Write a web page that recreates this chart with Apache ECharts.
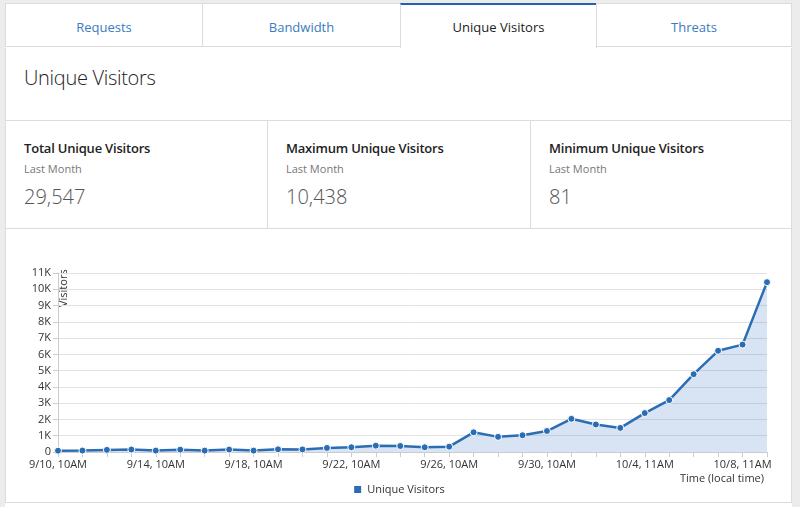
<!DOCTYPE html>
<html>
<head>
<meta charset="utf-8">
<script src="https://cdn.jsdelivr.net/npm/echarts@6/dist/echarts.min.js"></script>
<style>
  html, body { margin: 0; padding: 0; width: 800px; height: 507px; overflow: hidden; background: #ececec; font-family: "Open Sans", "Noto Sans", sans-serif; }
  .panel { position: absolute; left: 5px; top: 3px; width: 787px; height: 504px; background: #fff; }
  .tabs { position: absolute; left: 0; top: 0; width: 787px; height: 45px; }
  .tab { position: absolute; top: 0; height: 44px; box-sizing: border-box; border: 1px solid #dcdcdc; background: #fff; color: #3a7cc0; font-size: 13px; text-align: center; line-height: 46px; }
  .tab.active { border: none; border-top: 2px solid #1f63ad; border-left: 1px solid #dcdcdc; border-right: 1px solid #dcdcdc; height: 45px; color: #222; line-height: 45px; }
  .title { position: absolute; left: 0; top: 45px; width: 787px; height: 73px; border-bottom: 1px solid #dcdcdc; box-sizing: border-box; border-left: 1px solid #dcdcdc; border-right: 1px solid #dcdcdc; }
  .title span { position: absolute; left: 18px; top: 16px; font-size: 20px; font-weight: 300; color: #222; letter-spacing: -0.3px; }
  .stats { position: absolute; left: 0; top: 118px; width: 787px; height: 108px; border-bottom: 1px solid #dcdcdc; box-sizing: border-box; border-left: 1px solid #dcdcdc; border-right: 1px solid #dcdcdc; }
  .stat { position: absolute; top: 0; height: 107px; box-sizing: border-box; }
  .stat .lbl { position: absolute; left: 18px; top: 18px; font-size: 13px; font-weight: 600; color: #222; letter-spacing: -0.2px; }
  .stat .sub { position: absolute; left: 18px; top: 40px; font-size: 11px; color: #777; }
  .stat .val { position: absolute; left: 18px; top: 62px; font-size: 20px; font-weight: 300; color: #555; }
  .chartwrap { position: absolute; left: 0; top: 226px; width: 787px; height: 274px; border-bottom: 1px solid #dcdcdc; box-sizing: border-box; border-left: 1px solid #dcdcdc; border-right: 1px solid #dcdcdc; }
  #chart { position: absolute; left: 0; top: 0; width: 785px; height: 273px; }
</style>
</head>
<body>
<div class="panel">
  <div class="tabs">
    <div class="tab" style="left:0;width:198px;">Requests</div>
    <div class="tab" style="left:197px;width:199px;">Bandwidth</div>
    <div class="tab active" style="left:395px;width:197px;">Unique Visitors</div>
    <div class="tab" style="left:591px;width:196px;">Threats</div>
  </div>
  <div class="title"><span>Unique Visitors</span></div>
  <div class="stats">
    <div class="stat" style="left:0;width:262px;border-right:1px solid #dcdcdc;">
      <div class="lbl">Total Unique Visitors</div><div class="sub">Last Month</div><div class="val">29,547</div>
    </div>
    <div class="stat" style="left:262px;width:263px;border-right:1px solid #dcdcdc;">
      <div class="lbl">Maximum Unique Visitors</div><div class="sub">Last Month</div><div class="val">10,438</div>
    </div>
    <div class="stat" style="left:525px;width:262px;">
      <div class="lbl">Minimum Unique Visitors</div><div class="sub">Last Month</div><div class="val">81</div>
    </div>
  </div>
  <div class="chartwrap"><div id="chart"></div></div>
</div>
<script>
const categories = [
  "9/10, 10AM","9/11, 10AM","9/12, 10AM","9/13, 10AM","9/14, 10AM","9/15, 10AM",
  "9/16, 10AM","9/17, 10AM","9/18, 10AM","9/19, 10AM","9/20, 10AM","9/21, 10AM",
  "9/22, 10AM","9/23, 10AM","9/24, 10AM","9/25, 10AM","9/26, 10AM","9/27, 10AM",
  "9/28, 10AM","9/29, 10AM","9/30, 10AM","10/1, 10AM","10/2, 10AM","10/3, 10AM",
  "10/4, 11AM","10/5, 11AM","10/6, 11AM","10/7, 11AM","10/8, 11AM","10/9, 11AM"
];
const visitors = [
  81, 90, 130, 150, 85, 145, 85, 150, 85, 165,
  160, 250, 290, 390, 370, 290, 330, 1210, 930, 1030,
  1290, 2040, 1690, 1480, 2390, 3190, 4780, 6220, 6600, 10438
];
const seriesName = "Unique Visitors";
const yAxisTitle = "Visitors";
const xAxisTitle = "Time (local time)";

const chart = echarts.init(document.getElementById('chart'));
const FONT = '"Open Sans", "Noto Sans", sans-serif';
chart.setOption({
  animation: false,
  textStyle: { fontFamily: FONT },
  grid: { left: 52, right: 24, top: 44, bottom: 50 },
  legend: {
    data: [{ name: seriesName, icon: 'rect' }],
    left: 'center', top: 250,
    itemWidth: 9, itemHeight: 9, itemGap: 6,
    textStyle: { fontFamily: FONT, fontSize: 11, color: '#333' }
  },
  xAxis: {
    type: 'category',
    data: categories,
    boundaryGap: false,
    axisLine: { show: true, lineStyle: { color: '#ccc' } },
    axisTick: { show: true, interval: 0, length: 5, lineStyle: { color: '#ccc' } },
    axisLabel: { interval: 3, fontSize: 11, color: '#333', margin: 7, fontFamily: FONT }
  },
  yAxis: {
    type: 'value',
    min: 0, max: 11000, interval: 1000,
    axisLine: { show: true, lineStyle: { color: '#ccc' } },
    axisTick: { show: true, length: 5, lineStyle: { color: '#ccc' } },
    axisLabel: { fontSize: 11, color: '#333', margin: 7, fontFamily: FONT,
      formatter: v => v === 0 ? '0' : (v / 1000) + 'K' },
    splitLine: { lineStyle: { color: '#e2e2e2' } }
  },
  graphic: [
    { type: 'text', x: 52, y: 78, rotation: Math.PI / 2,
      style: { text: yAxisTitle, fontSize: 11, fill: '#333', fontFamily: FONT } },
    { type: 'text', x: 758, y: 244,
      style: { text: xAxisTitle, fontSize: 11, fill: '#333', fontFamily: FONT, textAlign: 'right' } }
  ],
  series: [{
    name: seriesName,
    type: 'line',
    data: visitors,
    symbol: 'circle',
    symbolSize: 7,
    itemStyle: { color: '#2a6db5', borderColor: '#fff', borderWidth: 1 },
    lineStyle: { color: '#2a6db5', width: 2.5 },
    areaStyle: { color: 'rgba(60,120,195,0.2)', opacity: 1 }
  }]
});
</script>
</body>
</html>
